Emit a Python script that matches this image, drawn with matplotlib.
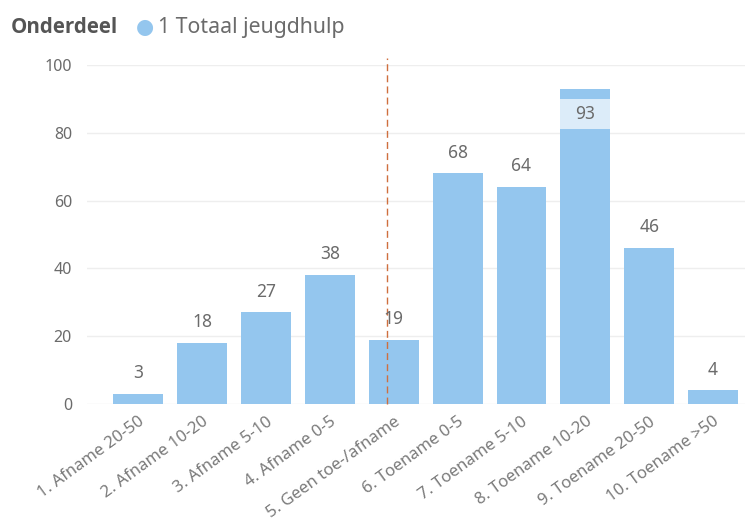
import matplotlib
matplotlib.use("Agg")
import matplotlib.pyplot as plt

# --- Data ---
categories = [
    "1. Afname 20-50", "2. Afname 10-20", "3. Afname 5-10", "4. Afname 0-5",
    "5. Geen toe-/afname", "6. Toename 0-5", "7. Toename 5-10",
    "8. Toename 10-20", "9. Toename 20-50", "10. Toename >50",
]
values = [3, 18, 27, 38, 19, 68, 64, 93, 46, 4]
y_ticks = [0, 20, 40, 60, 80, 100]
ref_line_x = 3.9

bar_color = "#94C6EE"
text_color = "#6b6b6b"
bar_w = 0.78

plt.rcParams["font.family"] = ["Noto Sans", "DejaVu Sans"]

fig = plt.figure(figsize=(7.45, 5.2), dpi=100)
ax = fig.add_axes([0.117, 0.223, 0.883, 0.652])

x = list(range(len(categories)))
ax.bar(x, values, width=bar_w, color=bar_color, zorder=2)

# data labels
for xi, v in zip(x, values):
    if v > 90:
        # label doesn't fit above -> drawn inside with a light background band
        ax.bar(xi, 9, bottom=v - 12, width=bar_w, color="#dcecf9", zorder=3)
        ax.text(xi, v - 7.5, str(v), ha="center", va="center", fontsize=12.5,
                color=text_color, zorder=4)
    else:
        ax.text(xi, v + 3.5, str(v), ha="center", va="bottom", fontsize=12.5,
                color=text_color, zorder=4)

# dashed reference line
ax.plot([ref_line_x, ref_line_x], [0, 102], color="#cf6f3e", lw=1.0,
        ls=(0, (5, 3)), zorder=3, clip_on=False)

ax.set_xlim(-0.8, 9.5)
ax.set_ylim(0, 100)
ax.set_yticks(y_ticks)
ax.set_xticks(x)
ax.set_xticklabels(categories, rotation=36, ha="right", rotation_mode="anchor",
                   fontsize=12, color="#7a7a7a")
ax.tick_params(axis="y", labelsize=11.5, labelcolor=text_color, length=0, pad=11)
ax.tick_params(axis="x", length=0, pad=7)

ax.grid(axis="y", color="#eeeeee", lw=1, zorder=0)
for s in ax.spines.values():
    s.set_visible(False)

# legend header
fig.text(0.014, 0.948, "Onderdeel", fontsize=14.8, fontweight="bold",
         family="Open Sans", color="#555555", va="center")
fig.text(0.182, 0.948, "\u25CF", fontsize=15, color=bar_color, va="center")
fig.text(0.212, 0.948, "1 Totaal jeugdhulp", fontsize=15.3, color="#6b6b6b",
         va="center")

fig.savefig("out.png", dpi=100)
